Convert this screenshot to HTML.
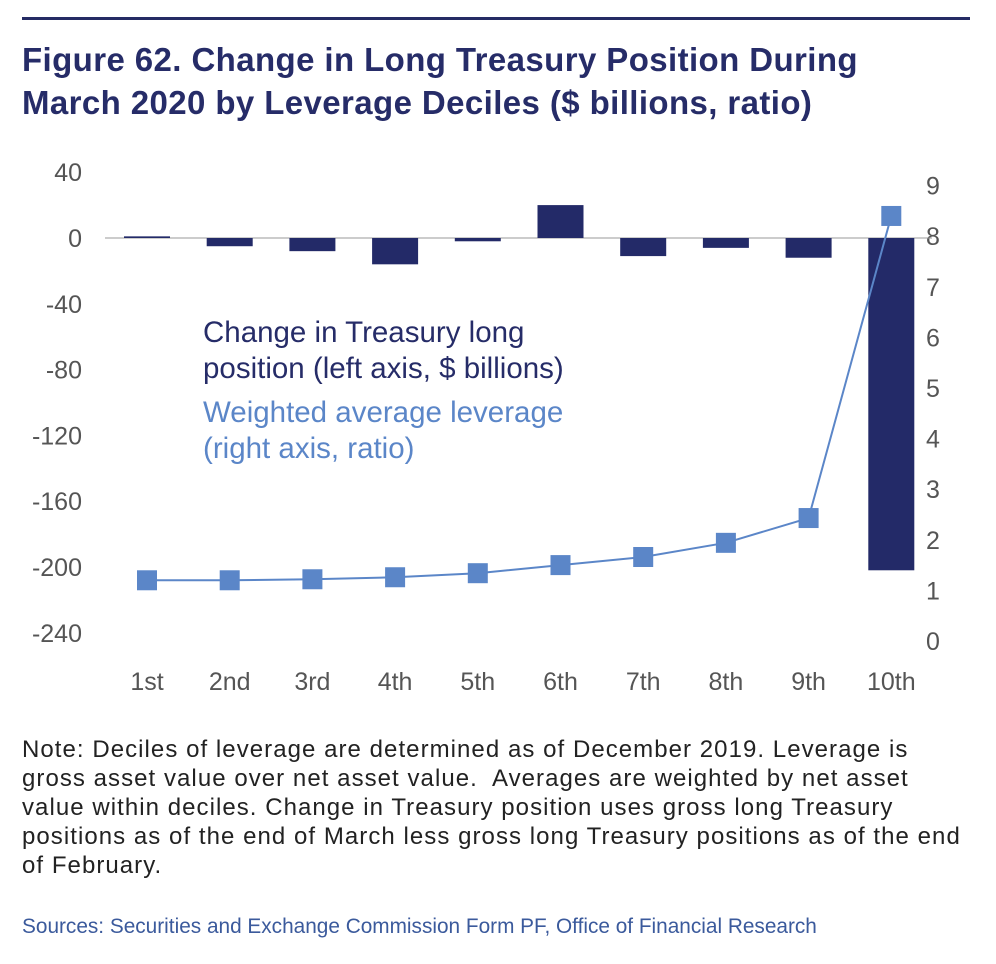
<!DOCTYPE html>
<html><head><meta charset="utf-8"><style>
html,body{margin:0;padding:0;background:#fff;}
body{width:996px;height:964px;position:relative;overflow:hidden;font-family:"Liberation Sans",sans-serif;}
.rule{position:absolute;left:22px;top:17px;width:948px;height:3px;background:#252b64;}
.title{position:absolute;left:22px;top:38px;font-size:33px;font-weight:bold;color:#262c68;line-height:43px;letter-spacing:0.4px;white-space:nowrap;}
.note{position:absolute;left:22px;top:735px;font-size:24px;letter-spacing:1.05px;color:#222;line-height:29px;white-space:nowrap;}
.src{position:absolute;left:22px;top:915px;font-size:20.8px;color:#3b5a9c;white-space:nowrap;}
svg{position:absolute;left:0;top:0;}
</style></head><body>
<div class="rule"></div>
<div class="title">Figure 62. Change in Long Treasury Position During<br>March 2020 by Leverage Deciles ($ billions, ratio)</div>
<svg id="chart" width="996" height="730"></svg>
<div class="note">Note: Deciles of leverage are determined as of December 2019. Leverage is<br>gross asset value over net asset value.&nbsp; Averages are weighted by net asset<br>value within deciles. Change in Treasury position uses gross long Treasury<br>positions as of the end of March less gross long Treasury positions as of the end<br>of February.</div>
<div class="src">Sources: Securities and Exchange Commission Form PF, Office of Financial Research</div>
<script>
const categories=["1st","2nd","3rd","4th","5th","6th","7th","8th","9th","10th"];
const changeValues=[1,-5,-8,-16,-2,20,-11,-6,-12,-202];
const leverageValues=[1.2,1.2,1.22,1.26,1.34,1.5,1.66,1.94,2.43,8.4];
const leftTicks=[40,0,-40,-80,-120,-160,-200,-240];
const rightTicks=[9,8,7,6,5,4,3,2,1,0];
const NS="http://www.w3.org/2000/svg";
const svg=document.getElementById("chart");
const yL=v=>238-v*1.645;
const yR=v=>641-v*50.6;
const xC=i=>147+i*82.7;
function mk(t,a){const e=document.createElementNS(NS,t);for(const k in a)e.setAttribute(k,a[k]);svg.appendChild(e);return e;}
leftTicks.forEach(v=>{const t=mk("text",{x:82,y:yL(v)+9,"text-anchor":"end","font-size":"25",fill:"#555"});t.textContent=v;

});
rightTicks.forEach(v=>{const t=mk("text",{x:926,y:yR(v)+9,"font-size":"25",fill:"#555"});t.textContent=v;

});
const ax=mk("line",{x1:105,x2:932,y1:yL(0),y2:yL(0),stroke:"#999","stroke-width":1});


categories.forEach((c,i)=>{const t=mk("text",{x:xC(i),y:690,"text-anchor":"middle","font-size":"25",fill:"#555"});t.textContent=c;

});
changeValues.forEach((v,i)=>{const y0=yL(0),y1=yL(v);const r=mk("rect",{x:xC(i)-23,y:Math.min(y0,y1),width:46,height:Math.max(1.5,Math.abs(y1-y0)),fill:"#232a68"});

});
const pl=mk("polyline",{points:leverageValues.map((v,i)=>xC(i)+","+yR(v)).join(" "),fill:"none",stroke:"#5b86c8","stroke-width":2});


leverageValues.forEach((v,i)=>{const r=mk("rect",{x:xC(i)-10,y:yR(v)-10,width:20,height:20,fill:"#5b86c8"});

});
const lg=[["Change in Treasury long",342,"#262c68"],["position (left axis, $ billions)",378,"#262c68"],["Weighted average leverage",422,"#5b86c8"],["(right axis, ratio)",458,"#5b86c8"]];
lg.forEach(l=>{const t=mk("text",{x:203,y:l[1],"font-size":"29.5",fill:l[2]});t.textContent=l[0];

});
</script>
</body></html>
